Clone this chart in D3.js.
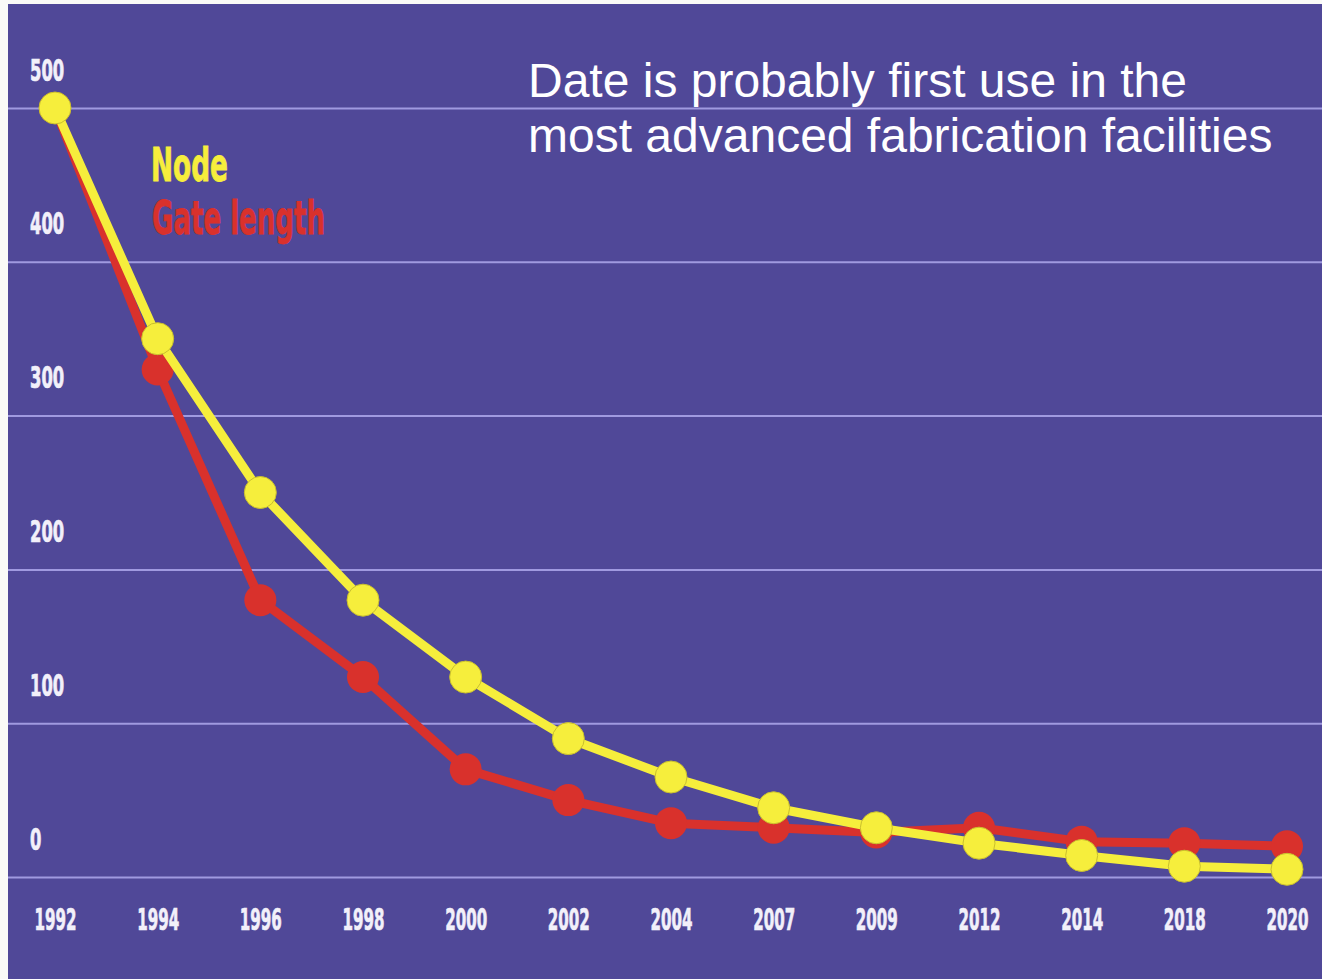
<!DOCTYPE html>
<html>
<head>
<meta charset="utf-8">
<script src="https://cdn.jsdelivr.net/npm/d3@7"></script>
<style>
  html, body { margin: 0; padding: 0; background: #fafaf7; }
  svg { display: block; }
</style>
</head>
<body>
<svg id="chart" width="1322" height="979"></svg>
<script>
// Process node size and physical gate length (nm) by year of first use
const years = ["1992","1994","1996","1998","2000","2002","2004","2007","2009","2012","2014","2018","2020"];
const nodeNm = [500, 350, 250, 180, 130, 90, 65, 45, 32, 22, 14, 7, 5];
const gateNm = [500, 330, 180, 130, 70, 50, 35, 32, 29, 32, 23, 22, 20];
const yTicks = [0, 100, 200, 300, 400, 500];
const legendLabels = ["Node", "Gate length"];
const noteLines = ["Date is probably first use in the", "most advanced fabrication facilities"];

const W = 1322, H = 979;
const panel = { left: 8, top: 4 };
const BG = "#504898", GRID = "#a09ae0", LABEL = "#f2f0fa";
const YELLOW = "#f6ee3c", RED = "#d9312c";
const condensed = "'Liberation Sans Narrow', 'DejaVu Sans Condensed', 'Roboto Condensed', sans-serif";

const svg = d3.select("#chart");

svg.append("rect")
  .attr("x", panel.left).attr("y", panel.top)
  .attr("width", W - panel.left).attr("height", H - panel.top)
  .attr("fill", BG);

const x = d3.scalePoint().domain(years).range([55, 1287]);
const y = d3.scaleLinear().domain([0, 500]).range([877, 108]);

// Squeeze a condensed label horizontally to the given width
function squeeze(sel, width, offset) {
  sel.each(function (d) {
    const w = this.getComputedTextLength();
    const target = typeof width === "function" ? width(d) : width;
    const sx = w > 0 ? target / w : 1;
    d3.select(this).attr("transform", `${offset || ""} scale(${sx},1)`);
  });
}

// Horizontal gridlines with labels sitting above each line
const yAxis = svg.append("g")
  .attr("transform", `translate(${panel.left},0)`)
  .call(d3.axisRight(y).tickValues(yTicks).tickSize(W - panel.left).tickFormat(d3.format("d")));
yAxis.select(".domain").remove();
yAxis.selectAll(".tick line").attr("stroke", GRID).attr("stroke-width", 2);
yAxis.selectAll(".tick text")
  .attr("x", 0).attr("dy", null).attr("y", 0)
  .attr("text-anchor", "start")
  .attr("fill", LABEL)
  .attr("stroke", LABEL).attr("stroke-width", 0.7)
  .style("font-family", condensed)
  .style("font-weight", "bold")
  .style("font-size", "30px")
  .call(squeeze, d => String(d).length * 11.4, "translate(22,-28)");

// Year labels along the bottom
const xAxis = svg.append("g")
  .attr("transform", "translate(0,930)")
  .call(d3.axisBottom(x).tickSize(0).tickPadding(0));
xAxis.select(".domain").remove();
xAxis.selectAll(".tick text")
  .attr("y", 0).attr("dy", null)
  .attr("fill", LABEL)
  .attr("stroke", LABEL).attr("stroke-width", 0.7)
  .style("font-family", condensed)
  .style("font-weight", "bold")
  .style("font-size", "30px")
  .call(squeeze, 42);

// Series: gate length drawn first, node on top
const series = [
  { values: gateNm, color: RED, width: 9, outline: "none" },
  { values: nodeNm, color: YELLOW, width: 9, outline: "#c9bf2e" }
];

const line = d3.line()
  .x((d, i) => x(years[i]))
  .y(d => y(d));

series.forEach(s => {
  const g = svg.append("g");
  g.append("path")
    .datum(s.values)
    .attr("d", line)
    .attr("fill", "none")
    .attr("stroke", s.color)
    .attr("stroke-width", s.width)
    .attr("stroke-linejoin", "round");
  g.selectAll("circle")
    .data(s.values)
    .join("circle")
    .attr("cx", (d, i) => x(years[i]))
    .attr("cy", d => y(d))
    .attr("r", 16)
    .attr("fill", s.color)
    .attr("stroke", s.outline)
    .attr("stroke-width", 1);
});

// Legend
const legend = svg.append("g").style("font-family", condensed).style("font-weight", "bold");
legend.append("text")
  .attr("x", 0).attr("y", 0)
  .attr("fill", YELLOW).attr("stroke", YELLOW).attr("stroke-width", 0.8)
  .style("font-size", "46px")
  .text(legendLabels[0])
  .call(squeeze, 77, "translate(151,181)");
legend.append("text")
  .attr("x", 0).attr("y", 0)
  .attr("fill", RED).attr("stroke", RED).attr("stroke-width", 0.8)
  .style("font-size", "46px")
  .text(legendLabels[1])
  .call(squeeze, 173, "translate(152,234)");

// Annotation
svg.append("g")
  .selectAll("text")
  .data(noteLines)
  .join("text")
  .attr("x", 528)
  .attr("y", (d, i) => 97 + i * 55)
  .attr("fill", "#ffffff")
  .style("font-family", "'Liberation Sans', Arial, sans-serif")
  .style("font-size", "48px")
  .text(d => d);
</script>
</body>
</html>
